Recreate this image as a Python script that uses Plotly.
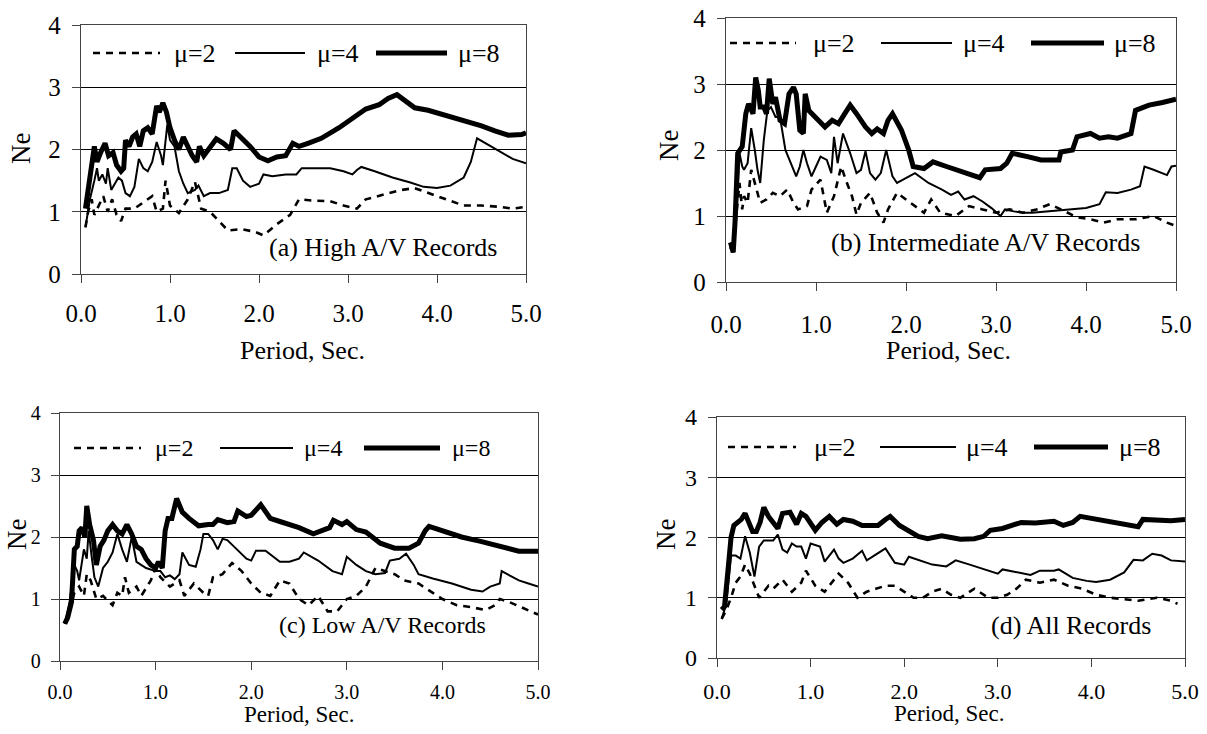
import plotly.graph_objects as go

W, H = 1207, 734

# ---------------- data ----------------
# Panel (a) High A/V
a8_x = [0.05,0.08,0.12,0.15,0.18,0.22,0.27,0.31,0.36,0.40,0.45,0.48,0.50,0.54,0.58,0.62,0.66,0.70,0.75,0.80,0.85,0.88,0.92,0.96,1.00,1.05,1.10,1.15,1.20,1.25,1.30,1.33,1.38,1.45,1.52,1.60,1.68,1.72,1.80,1.90,2.00,2.10,2.20,2.30,2.38,2.45,2.55,2.70,2.90,3.10,3.20,3.35,3.45,3.55,3.65,3.75,3.90,4.10,4.30,4.50,4.65,4.80,4.95,5.00]
a8_y = [1.05,1.30,1.75,2.05,1.80,1.95,2.10,1.90,1.95,1.75,1.65,1.70,2.15,2.05,2.20,2.25,2.05,2.30,2.35,2.25,2.70,2.60,2.75,2.60,2.35,2.15,2.00,2.20,2.05,1.90,1.80,2.05,1.90,2.05,2.17,2.10,2.00,2.30,2.20,2.05,1.88,1.82,1.88,1.90,2.10,2.05,2.10,2.18,2.35,2.55,2.65,2.72,2.82,2.88,2.78,2.67,2.63,2.55,2.46,2.38,2.30,2.23,2.24,2.27]
a4_x = [0.05,0.10,0.15,0.18,0.20,0.24,0.28,0.30,0.34,0.38,0.42,0.46,0.50,0.55,0.60,0.65,0.70,0.75,0.80,0.85,0.90,0.92,0.97,1.00,1.05,1.10,1.15,1.20,1.28,1.32,1.38,1.45,1.55,1.65,1.70,1.75,1.82,1.90,2.00,2.05,2.15,2.30,2.42,2.48,2.60,2.80,2.95,3.05,3.10,3.15,3.30,3.50,3.70,3.85,4.00,4.15,4.30,4.38,4.45,4.55,4.70,4.85,5.00]
a4_y = [0.75,1.20,1.50,1.70,1.50,1.60,1.45,1.70,1.35,1.45,1.55,1.50,1.30,1.25,1.40,1.85,1.70,1.65,1.80,2.12,1.90,1.75,2.40,2.15,2.05,1.65,1.45,1.30,1.35,1.42,1.25,1.30,1.30,1.35,1.70,1.70,1.50,1.40,1.45,1.60,1.57,1.60,1.60,1.70,1.70,1.70,1.65,1.60,1.67,1.72,1.65,1.55,1.47,1.40,1.38,1.42,1.55,1.80,2.18,2.10,1.98,1.85,1.78]
a2_x = [0.05,0.08,0.12,0.15,0.20,0.25,0.30,0.35,0.40,0.45,0.50,0.60,0.70,0.80,0.85,0.92,0.95,1.00,1.10,1.20,1.28,1.35,1.45,1.55,1.65,1.80,1.95,2.05,2.20,2.35,2.45,2.60,2.80,2.95,3.10,3.20,3.40,3.60,3.75,3.90,4.10,4.30,4.50,4.70,4.85,5.00]
a2_y = [0.75,1.00,1.20,0.95,1.10,1.25,1.00,1.20,0.95,0.85,1.05,1.05,1.15,1.25,1.00,1.05,1.50,1.10,0.98,1.20,1.48,1.05,1.00,0.85,0.70,0.72,0.68,0.62,0.80,0.95,1.20,1.18,1.17,1.10,1.05,1.20,1.28,1.35,1.38,1.30,1.20,1.10,1.10,1.08,1.05,1.08]

# Panel (b) Intermediate A/V
b8_x = [0.05,0.08,0.10,0.13,0.18,0.22,0.25,0.28,0.30,0.33,0.36,0.38,0.42,0.45,0.48,0.52,0.55,0.60,0.65,0.70,0.75,0.78,0.82,0.86,0.88,0.92,1.00,1.10,1.18,1.25,1.32,1.38,1.45,1.55,1.62,1.68,1.75,1.80,1.85,1.95,2.03,2.08,2.20,2.30,2.45,2.60,2.75,2.82,2.88,3.05,3.12,3.18,3.35,3.50,3.62,3.70,3.72,3.85,3.90,4.05,4.15,4.25,4.35,4.50,4.55,4.70,4.85,5.00]
b8_y = [0.60,0.45,0.90,1.95,2.05,2.55,2.70,2.60,2.55,3.10,2.90,2.65,2.65,2.55,3.08,2.70,2.80,2.45,2.40,2.85,2.95,2.85,2.30,2.25,2.85,2.60,2.50,2.35,2.45,2.40,2.55,2.68,2.55,2.35,2.25,2.32,2.25,2.45,2.55,2.30,2.00,1.75,1.72,1.82,1.75,1.68,1.60,1.58,1.70,1.72,1.80,1.95,1.90,1.85,1.85,1.85,1.97,2.00,2.20,2.25,2.18,2.20,2.18,2.25,2.60,2.68,2.72,2.77]
b4_x = [0.05,0.08,0.12,0.15,0.18,0.20,0.24,0.28,0.32,0.35,0.38,0.42,0.46,0.50,0.55,0.60,0.66,0.72,0.78,0.82,0.86,0.90,0.95,1.00,1.05,1.12,1.17,1.20,1.24,1.30,1.38,1.45,1.50,1.55,1.60,1.66,1.72,1.78,1.85,1.90,2.00,2.10,2.25,2.40,2.50,2.58,2.65,2.75,2.85,2.95,3.05,3.10,3.20,3.30,3.40,3.60,3.80,4.00,4.15,4.22,4.35,4.50,4.60,4.65,4.75,4.90,4.95,5.00]
b4_y = [0.55,0.45,1.10,1.95,1.75,1.70,1.80,2.33,2.00,1.70,1.50,2.15,2.60,2.65,2.50,2.50,2.00,1.80,1.60,1.75,2.00,1.80,1.60,1.75,1.90,1.85,1.65,2.20,1.80,2.25,1.95,1.65,1.70,1.98,1.65,1.55,1.65,2.00,1.60,1.50,1.58,1.65,1.50,1.40,1.32,1.37,1.25,1.30,1.22,1.12,1.00,1.10,1.07,1.05,1.05,1.07,1.10,1.12,1.18,1.36,1.35,1.40,1.45,1.75,1.70,1.62,1.75,1.76]
b2_x = [0.05,0.10,0.15,0.18,0.20,0.24,0.28,0.32,0.38,0.45,0.52,0.60,0.68,0.75,0.80,0.90,0.95,1.05,1.12,1.20,1.28,1.33,1.40,1.45,1.50,1.60,1.68,1.75,1.80,1.90,2.00,2.10,2.20,2.28,2.38,2.55,2.70,2.85,3.00,3.15,3.30,3.45,3.60,3.75,3.90,4.05,4.20,4.35,4.55,4.75,4.90,5.00]
b2_y = [0.50,0.80,1.50,1.10,1.30,1.20,1.70,1.50,1.20,1.25,1.35,1.30,1.40,1.20,1.10,1.15,1.40,1.55,1.05,1.30,1.75,1.55,1.30,1.02,1.20,1.35,1.05,0.90,1.10,1.35,1.25,1.15,1.05,1.25,1.05,1.00,1.15,1.10,1.05,1.10,1.05,1.10,1.18,1.08,0.98,0.95,0.90,0.95,0.95,1.00,0.90,0.85]

# Panel (c) Low A/V
c8_x = [0.05,0.08,0.12,0.15,0.18,0.20,0.23,0.26,0.28,0.31,0.35,0.38,0.42,0.46,0.50,0.55,0.60,0.65,0.70,0.75,0.80,0.85,0.90,0.95,1.00,1.03,1.07,1.10,1.13,1.17,1.22,1.28,1.35,1.45,1.55,1.60,1.65,1.75,1.82,1.86,1.95,2.00,2.10,2.20,2.30,2.40,2.50,2.65,2.75,2.82,2.86,2.95,3.00,3.10,3.20,3.35,3.50,3.65,3.75,3.82,3.86,4.00,4.20,4.40,4.60,4.80,5.00]
c8_y = [0.60,0.70,0.95,1.80,1.85,2.10,2.15,2.00,2.50,2.20,1.95,1.55,1.85,1.95,2.10,2.20,2.10,2.05,2.20,2.05,1.85,1.80,1.65,1.55,1.50,1.60,1.50,2.10,2.30,2.30,2.62,2.40,2.30,2.18,2.20,2.20,2.28,2.23,2.25,2.42,2.33,2.35,2.52,2.30,2.25,2.20,2.15,2.05,2.12,2.15,2.27,2.20,2.25,2.12,2.08,1.90,1.82,1.82,1.90,2.10,2.17,2.10,2.00,1.93,1.85,1.77,1.77]
c4_x = [0.05,0.10,0.15,0.18,0.20,0.23,0.25,0.28,0.30,0.33,0.36,0.40,0.45,0.50,0.55,0.60,0.65,0.70,0.75,0.80,0.90,1.00,1.05,1.10,1.15,1.20,1.25,1.28,1.35,1.42,1.47,1.50,1.55,1.60,1.65,1.70,1.75,1.85,1.95,2.00,2.05,2.15,2.30,2.40,2.50,2.55,2.70,2.85,2.95,3.00,3.10,3.20,3.30,3.40,3.45,3.55,3.62,3.70,3.75,3.90,4.10,4.30,4.42,4.50,4.60,4.62,4.70,4.80,4.90,5.00]
c4_y = [0.60,0.95,1.55,1.45,1.30,1.60,1.80,1.65,2.10,1.70,1.35,1.20,1.50,1.60,1.75,2.05,1.80,1.60,2.00,1.60,1.50,1.45,1.45,1.35,1.38,1.32,1.40,1.75,1.55,1.52,1.80,2.05,2.05,1.95,1.80,1.97,1.95,1.80,1.65,1.62,1.78,1.78,1.60,1.60,1.65,1.75,1.62,1.45,1.40,1.68,1.55,1.45,1.40,1.42,1.62,1.65,1.73,1.55,1.40,1.33,1.25,1.15,1.12,1.20,1.25,1.45,1.38,1.30,1.25,1.20]
c2_x = [0.05,0.10,0.15,0.20,0.25,0.28,0.32,0.38,0.45,0.55,0.60,0.65,0.68,0.72,0.80,0.85,0.95,1.00,1.05,1.15,1.25,1.30,1.40,1.50,1.55,1.60,1.70,1.80,1.90,2.00,2.10,2.20,2.30,2.40,2.50,2.60,2.70,2.80,2.90,3.00,3.10,3.20,3.30,3.40,3.50,3.60,3.75,3.90,4.00,4.15,4.30,4.45,4.55,4.60,4.70,4.85,5.00]
c2_y = [0.60,0.80,1.10,1.20,1.05,1.40,1.30,1.00,1.05,0.90,1.10,1.05,1.35,1.10,1.20,1.05,1.30,1.50,1.35,1.20,1.30,1.05,1.25,1.10,1.05,1.35,1.40,1.58,1.45,1.25,1.10,1.05,1.30,1.25,1.00,0.90,1.05,0.80,0.80,1.00,1.05,1.20,1.50,1.45,1.40,1.30,1.25,1.10,1.00,0.90,0.87,0.82,0.90,1.00,0.95,0.85,0.75]

# Panel (d) All records
d8_x = [0.05,0.08,0.12,0.15,0.18,0.22,0.26,0.30,0.34,0.38,0.42,0.46,0.50,0.55,0.60,0.65,0.70,0.78,0.85,0.90,0.95,1.05,1.12,1.20,1.28,1.35,1.45,1.55,1.65,1.72,1.80,1.85,1.95,2.05,2.15,2.25,2.40,2.50,2.60,2.75,2.85,2.92,3.05,3.15,3.25,3.40,3.60,3.70,3.80,3.88,4.00,4.20,4.40,4.50,4.55,4.70,4.85,5.00]
d8_y = [0.80,0.85,1.50,2.00,2.20,2.25,2.30,2.40,2.25,2.10,2.10,2.25,2.50,2.35,2.25,2.15,2.40,2.42,2.22,2.40,2.35,2.12,2.25,2.35,2.22,2.30,2.27,2.20,2.20,2.20,2.30,2.35,2.20,2.10,2.02,1.98,2.03,2.00,1.97,1.98,2.02,2.12,2.15,2.20,2.25,2.24,2.27,2.20,2.25,2.35,2.32,2.25,2.20,2.18,2.30,2.28,2.28,2.30]
d4_x = [0.05,0.10,0.15,0.20,0.25,0.30,0.35,0.40,0.45,0.50,0.55,0.60,0.65,0.70,0.75,0.80,0.85,0.90,0.95,1.00,1.10,1.15,1.25,1.30,1.35,1.45,1.55,1.60,1.70,1.80,1.90,2.00,2.05,2.15,2.30,2.45,2.55,2.70,2.85,3.00,3.05,3.20,3.35,3.45,3.60,3.65,3.80,3.95,4.05,4.20,4.35,4.45,4.55,4.65,4.75,4.85,5.00]
d4_y = [0.65,0.90,1.70,1.70,1.65,2.02,1.75,1.35,1.85,1.95,1.95,1.95,2.05,1.80,1.75,1.90,1.85,1.85,1.65,1.90,1.85,1.60,1.80,1.65,1.58,1.65,1.78,1.62,1.72,1.82,1.58,1.55,1.68,1.63,1.55,1.52,1.62,1.55,1.47,1.40,1.47,1.42,1.38,1.45,1.45,1.47,1.33,1.28,1.26,1.30,1.42,1.63,1.62,1.73,1.70,1.62,1.60]
d2_x = [0.05,0.10,0.15,0.20,0.25,0.30,0.35,0.40,0.45,0.55,0.60,0.70,0.80,0.90,0.95,1.05,1.15,1.25,1.30,1.40,1.50,1.60,1.70,1.80,1.90,2.00,2.10,2.20,2.30,2.40,2.50,2.60,2.75,2.90,3.00,3.10,3.20,3.30,3.45,3.60,3.75,3.90,4.05,4.20,4.35,4.50,4.70,4.85,4.92]
d2_y = [0.65,0.80,1.00,1.25,1.35,1.55,1.40,1.20,1.00,1.20,1.15,1.30,1.10,1.25,1.45,1.20,1.10,1.30,1.40,1.25,1.00,1.10,1.15,1.20,1.20,1.10,1.00,1.00,1.10,1.15,1.05,1.00,1.15,1.00,1.00,1.05,1.15,1.30,1.25,1.30,1.20,1.15,1.05,1.00,0.97,0.95,1.00,0.95,0.90]

series_labels = ["\u03bc=2", "\u03bc=4", "\u03bc=8"]
panel_titles = ["(a) High A/V Records", "(b) Intermediate A/V Records",
                "(c) Low A/V Records", "(d) All Records"]
x_ticks = [0, 1, 2, 3, 4, 5]
x_ticktext = ["0.0", "1.0", "2.0", "3.0", "4.0", "5.0"]
y_ticks = [0, 1, 2, 3, 4]

panels_data = [
    (a2_x, a2_y, a4_x, a4_y, a8_x, a8_y),
    (b2_x, b2_y, b4_x, b4_y, b8_x, b8_y),
    (c2_x, c2_y, c4_x, c4_y, c8_x, c8_y),
    (d2_x, d2_y, d4_x, d4_y, d8_x, d8_y),
]

# ---------------- layout (pixel positions) ----------------
FONT = "Liberation Serif"
# plot area: left, right, top, bottom (pixels)
boxes = [(81, 526, 25, 274), (726, 1176, 18, 282), (60, 538, 413, 661), (717, 1185, 417, 658)]
tick_sizes = [25, 25, 20, 22]
ytick_sizes = [25, 25, 20, 24]
tick_standoff = [9, 12, 5, 5]
legend_sizes = [26, 26, 24, 26]
title_sizes = [26, 26, 24, 26]
period_sizes = [26, 26, 23, 23]
# legend: y, sample segments (x0,x1) for 3 series, label left x
legends = [
    (53, [(93, 160), (235, 305), (376, 447)], [172, 315, 456]),
    (43, [(730, 796), (881, 952), (1031, 1104)], [811, 961, 1112]),
    (448, [(74, 141), (220, 293), (364, 440)], [153, 302, 450]),
    (447, [(728, 796), (880, 956), (1034, 1108)], [812, 964, 1117]),
]
panel_text_pos = [(267, 247), (829, 243), (277, 625), (989, 625)]
ne_pos = [(21, 149), (669, 146), (17, 535), (666, 535)]
period_pos = [(302, 350), (948, 350), (299, 714), (949, 713)]

styles = [
    dict(color="black", width=2.6, dash="7px,6px"),
    dict(color="black", width=2),
    dict(color="black", width=5),
]

def px(x):
    return x / W

def py(y):
    return 1 - y / H

fig = go.Figure()
annotations = []
shapes = []
for i, (data, box) in enumerate(zip(panels_data, boxes)):
    n = "" if i == 0 else str(i + 1)
    xa, ya = "x" + n, "y" + n
    for k in range(3):
        fig.add_trace(go.Scatter(x=data[2 * k], y=data[2 * k + 1], mode="lines",
                                 line=styles[k], xaxis=xa, yaxis=ya,
                                 name=series_labels[k], showlegend=False))
    l, r, t, b = box
    axis_common = dict(showline=True, mirror=True, linecolor="#444", linewidth=1.3,
                       ticks="outside", ticklen=8, tickcolor="#444", tickwidth=1.3,
                       zeroline=False, automargin=False)
    fig.update_layout(**{
        "xaxis" + n: dict(domain=[px(l), px(r)], range=[0, 5], tickvals=x_ticks,
                          ticktext=x_ticktext, showgrid=False, anchor=ya,
                          ticklabelstandoff=tick_standoff[i],
                          tickfont=dict(family=FONT, size=tick_sizes[i], color="black"),
                          **axis_common),
        "yaxis" + n: dict(domain=[py(b), py(t)], range=[0, 4], tickvals=y_ticks,
                          showgrid=True, gridcolor="black", gridwidth=1, anchor=xa,
                          ticklabelstandoff=6,
                          tickfont=dict(family=FONT, size=ytick_sizes[i], color="black"),
                          **axis_common),
    })
    ly, segs, labx = legends[i]
    for k in range(3):
        shapes.append(dict(type="line", xref="paper", yref="paper",
                           x0=px(segs[k][0]), x1=px(segs[k][1]), y0=py(ly), y1=py(ly),
                           line=styles[k]))
        annotations.append(dict(text=series_labels[k], xref="paper", yref="paper",
                                x=px(labx[k]), y=py(ly), xanchor="left", yanchor="middle",
                                showarrow=False,
                                font=dict(family=FONT, size=legend_sizes[i], color="black")))
    tx, ty = panel_text_pos[i]
    annotations.append(dict(text=panel_titles[i], xref="paper", yref="paper",
                            x=px(tx), y=py(ty), xanchor="left", yanchor="middle",
                            showarrow=False, font=dict(family=FONT, size=title_sizes[i], color="black")))
    nx, ny = ne_pos[i]
    annotations.append(dict(text="Ne", xref="paper", yref="paper", x=px(nx), y=py(ny),
                            xanchor="center", yanchor="middle", textangle=-90, showarrow=False,
                            font=dict(family=FONT, size=27, color="black")))
    qx, qy = period_pos[i]
    annotations.append(dict(text="Period, Sec.", xref="paper", yref="paper", x=px(qx), y=py(qy),
                            xanchor="center", yanchor="middle", showarrow=False,
                            font=dict(family=FONT, size=period_sizes[i], color="black")))

fig.update_layout(width=W, height=H, margin=dict(l=0, r=0, t=0, b=0),
                  paper_bgcolor="white", plot_bgcolor="white",
                  annotations=annotations, shapes=shapes, showlegend=False)
fig.write_html("out.html", config={"displayModeBar": False},
               post_script="document.body.style.margin='0';document.body.style.overflow='hidden';")
